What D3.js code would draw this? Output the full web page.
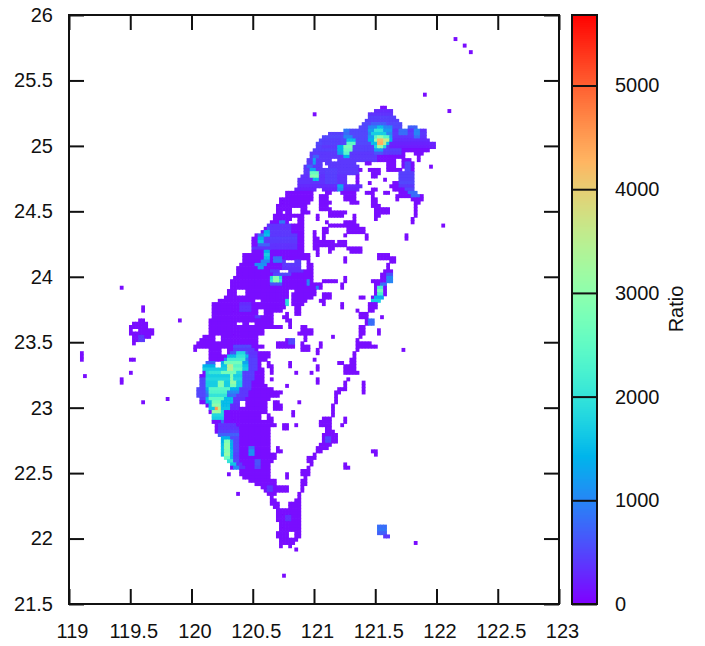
<!doctype html>
<html>
<head>
<meta charset="utf-8">
<title>Ratio map</title>
<script src="https://cdnjs.cloudflare.com/ajax/libs/d3/7.8.5/d3.min.js"></script>
<style>
  html, body { margin: 0; padding: 0; background: #fff; }
  svg { display: block; }
  text { font-family: "Liberation Sans", Arial, sans-serif; fill: #111; }
</style>
</head>
<body>
<svg id="viz" width="705" height="646"></svg>
<script>
// grid cells are 0.025 deg; i counts east from 119, j counts north from 21.5
var gridStep = 0.025;
var baseRatio = 70;
var xTicks = [119, 119.5, 120, 120.5, 121, 121.5, 122, 122.5, 123];
var yTicks = [21.5, 22, 22.5, 23, 23.5, 24, 24.5, 25, 25.5, 26];
var cbTicks = [0, 1000, 2000, 3000, 4000, 5000];
var cbMax = 5680;

// [j, i0, i1, i0, i1, ...] occupied cells of each row
var landRows = [
[172,126,126],[170,129,129],[168,131,131],[155,116,116],
[151,102,103],[150,100,105,124,124],[149,98,105,80,80],[148,98,106],[147,97,107],[146,96,108],
[145,95,108,111,113],[144,90,116],[143,85,116],[142,83,116],[141,82,117],[140,81,119],[139,81,119],[138,80,117],
[137,79,109,113,115],[136,79,109,114,114],[135,78,85,88,106,109,111,114,114],
[134,78,82,84,93,97,98,104,106,109,112],[133,77,82,85,94,104,106,109,112,118,118],[132,77,95,98,101,104,108,110,112],
[131,77,94,99,101,108,112],[130,76,90,94,94,99,100,108,112],[129,75,90,94,94,103,103,108,112],
[128,75,90,94,94,98,98,106,112],[127,75,95,105,112],[126,74,80,83,94,99,100,106,112],
[125,71,79,84,85,89,93,97,99,103,104,108,113],[124,71,79,82,84,90,93,99,99,107,115],
[123,69,79,82,84,90,93,99,100,107,107,112,115],[122,69,78,82,85,92,94,99,100,113,114],
[121,68,77,82,84,99,101,113,113],[120,68,72,76,77,82,85,100,104,113,113],
[119,68,69,71,72,76,78,85,90,100,104,113,113],[118,67,76,81,81,85,89,93,93,100,101,113,113],
[117,67,72,75,76,81,81,93,93,100,100,112,112],[116,66,71,75,76,84,84,90,93,112,112],
[115,65,76,85,94,122,122],[114,64,76,83,84,91,96],[113,63,76,80,80,83,84,91,96],
[112,61,76,80,80,83,83,90,90,97,97,110,110],[111,60,76,80,81,83,83,97,97,110,110],
[110,60,76,80,86,88,90],[109,60,76,80,90],[108,60,76,80,81,85,86,91,95],[107,60,76,81,81,85,85,92,95],
[106,57,78,81,81,101,104],[105,57,78,90,90,101,106],[104,57,70,74,75,78,78,90,90,105,106],
[103,56,75,78,79,104,104],[102,55,75,78,79,104,104],[101,55,68,72,79,103,105],[100,55,79,102,105],
[99,54,79,90,90,102,105],[98,53,79,83,87,90,90,99,105],[97,53,82,89,89,100,103],[96,53,82,89,89,100,103,17,17],
[95,52,54,58,71,74,80,100,103],[94,52,54,58,71,73,80,83,85,100,103],[93,51,71,73,79,83,85,95,96,99,102],
[92,49,60,63,71,73,77,82,83,99,101],[91,47,71,73,76,83,83,89,89,98,100],
[90,47,70,74,75,89,89,98,100,24,24],[89,47,61,64,69,74,75,94,94,98,99,24,24],[88,47,61,64,66,71,71,74,75,95,97],
[87,47,66,70,71,95,97,102,102],[86,46,66,71,72,97,99,36,36,23,24],[85,46,54,57,58,61,66,72,72,97,99,21,25],
[84,46,69,72,72,76,77,95,96,20,25],[83,46,63,76,79,95,96,101,101,20,20,23,27],[82,46,63,75,79,95,96,101,101,20,27],
[81,44,47,50,61,77,77,86,86,95,95,21,26],[80,43,47,50,61,71,73,77,77,94,94,21,24],
[79,42,61,68,73,76,76,82,82,94,98,21,21],[78,41,63,68,73,76,78,82,82,94,100],
[77,41,41,46,49,52,61,76,78,81,81,94,94,109,109],[76,46,49,52,65,81,81,93,93,4,4],[75,46,65,93,93,4,4],
[74,46,64,80,80,92,93,4,4,20,21],[73,45,47,50,62,65,65,72,72,88,89,92,93],[72,44,47,50,62,65,66,72,72,81,81,90,93],
[71,44,63,66,66,81,81,90,93],[70,44,63,66,66,74,74,79,79,90,94,20,20],[69,43,63,5,5],
[68,43,63,66,66,81,81,91,91,17,17],[67,43,63,81,81,90,90,96,96,17,17],[66,43,64,71,71,90,90,96,96],
[65,42,66,88,90,96,96],[64,42,69,87,88,96,96],[63,42,68,87,87],[62,43,65,87,87,32,32],
[61,43,55,58,64,67,68,75,75,87,87,24,24],[60,45,55,58,64,67,69,86,86],[59,46,64,67,69,86,86],[58,46,64,73,73,86,86],
[57,47,62,65,65,73,73,86,86],[56,47,62,65,66,83,85,90,90],[55,47,66,82,85,90,90],[54,48,67,70,71,74,74,82,85,89,89],
[53,48,65,70,71,84,85],[52,48,65,84,86],[51,49,65,83,87],[50,50,65,83,87],[49,50,65,83,87],[48,50,65,82,85],
[47,50,65,68,68,81,84],[46,50,65,68,69,81,82,99,100],[45,50,67,80,80,100,100],[44,51,67,78,80],[43,52,66,78,79],
[42,53,65,79,79,90,90],[41,53,65,78,78,90,91],[40,56,65,76,78],[39,52,52,56,65,71,71,76,78],[38,57,65,71,71,77,77],
[37,59,67,76,77],[36,61,67,76,77],[35,63,71,76,76],[34,64,71,76,76],[33,55,55,65,67,75,75],[32,66,66,75,75],
[31,66,67,74,75],[30,66,68,72,75],[29,67,68,72,75],[28,68,75],[27,68,75],[26,68,75],[25,68,75],
[24,69,75],[23,69,75,101,103],[22,69,75,101,103],[21,68,71,74,75,101,103],[20,68,71,74,75,103,104],
[19,69,74],[18,69,73,113,113],[17,69,69,72,72],[16,74,74],[8,70,70]
];

// [j, i0, i1, ratio] patches above the base level; later entries win
var hotSpans = [
// general tone, north
[150,100,105,300],[149,98,105,350],[148,98,106,450],[147,97,107,450],
[146,96,108,500],[145,93,108,500],[144,90,108,500],[143,85,108,500],[142,83,108,500],[141,82,108,500],[140,81,108,500],[139,81,108,450],[138,80,108,450],[137,79,108,400],[136,79,100,400],[135,78,100,400],
[144,105,116,350],[143,105,116,400],[142,105,116,350],[141,105,117,300],[140,105,119,250],[139,105,119,200],
[144,85,90,350],[143,83,90,450],[142,83,90,500],[141,83,88,450],[140,83,88,450],[139,83,88,400],
[134,77,94,400],[133,77,94,400],[132,77,94,400],[131,77,94,400],[130,76,90,350],[129,75,90,350],[128,75,90,350],[127,75,95,300],[126,74,94,250],
// taipei
[146,99,103,700],[145,98,105,1000],[145,101,102,1500],[144,98,105,1200],[144,100,102,2000],
[143,98,105,1000],[143,99,103,1700],[142,98,105,1200],[142,100,104,2400],[142,101,102,3000],
[141,98,105,1400],[141,100,104,3000],[141,101,102,4200],[141,103,104,3600],
[140,99,104,1500],[140,101,103,3500],[140,101,102,4300],[139,100,103,1800],[139,101,102,3200],
[138,100,102,1200],[137,100,102,600],
// keelung side
[145,111,113,700],[144,108,110,800],[143,108,110,800],[144,113,114,1000],[143,113,114,1000],[142,113,114,800],
// banqiao / taoyuan
[144,90,91,900],[143,90,91,800],[142,90,92,1000],[141,91,93,1500],[140,91,93,2500],
[139,88,89,1400],[139,90,92,2800],[138,88,89,1400],[138,90,92,2600],[137,88,89,1200],[137,90,91,2400],[136,90,91,1400],
// hsinchu
[136,80,81,700],[135,80,80,1300],[134,80,80,1200],[133,78,79,700],[132,79,80,1300],[131,79,81,2600],[130,79,81,2900],[129,80,81,1500],
[132,84,87,450],[131,84,87,450],[130,84,87,450],[129,84,87,450],[128,84,87,450],
[127,88,89,1300],[126,88,89,1100],
// yilan
[134,110,111,500],[133,110,111,500],[132,110,111,500],[131,108,112,450],[130,108,112,450],[129,108,112,450],[128,108,112,500],
[127,108,112,400],[126,110,112,500],[125,111,113,800],[124,112,114,800],
// taichung
[116,69,70,900],[115,69,70,900],[114,65,65,600],[113,64,65,1400],[112,64,65,1500],[112,62,63,800],[111,62,63,1400],[110,62,63,1600],[110,67,68,500],[109,62,65,700],
[115,65,72,350],[114,66,72,350],[113,66,72,400],[112,66,74,400],[111,64,74,450],[110,64,74,400],[109,66,74,350],[108,60,74,350],
[107,64,65,1400],[106,64,65,1700],[105,64,65,1500],[105,67,69,800],[104,63,65,1000],[104,67,69,900],[103,61,64,1100],[102,62,63,1200],
[104,70,75,400],[103,70,75,400],[102,70,75,350],[101,72,76,350],[101,66,68,400],[100,67,72,500],
[99,66,69,1800],[99,67,68,2900],[98,66,69,2000],[98,67,68,3000],[97,66,69,600],
[98,78,78,1000],[97,78,78,1000],[96,81,81,900],[95,81,81,900],[92,71,72,1900],[91,71,72,1900],
[91,56,59,300],[90,56,59,350],[89,56,59,350],[87,61,62,400],[80,72,73,500],[79,72,73,500],
// hualien
[100,104,105,600],[99,104,105,1000],[98,104,105,1000],[97,102,103,800],[96,101,102,2200],[95,101,102,2700],[94,101,102,2200],[93,100,102,1300],[92,99,101,1700],
[86,98,99,800],[85,98,99,800],
// tone around tainan
[76,58,61,350],[75,58,61,400],[74,58,61,450],[73,58,61,450],[72,58,61,450],[71,58,61,450],[70,56,60,450],[69,56,60,450],[68,56,60,450],
[67,56,59,450],[66,56,59,450],[65,55,59,400],[64,55,58,400],[63,54,58,400],[62,53,57,350],[61,53,57,350],[60,52,56,300],[59,52,55,300],
[68,43,44,500],[67,43,44,500],[66,43,44,500],[65,42,44,500],[64,42,44,500],[63,42,44,500],[62,43,44,450],
// chiayi / tainan
[78,54,59,500],[77,54,60,400],[76,53,58,600],[76,55,57,1800],[75,52,58,1500],[75,55,57,2000],
[74,51,58,1000],[74,52,57,2200],[73,45,47,700],[73,50,58,1300],[73,51,56,2700],
[72,44,47,1400],[72,50,58,1600],[72,52,53,3500],[72,54,56,2400],
[71,44,58,1700],[71,52,53,3400],[71,54,56,2600],[70,45,56,1800],[70,46,49,2000],[70,50,54,2700],
[69,45,56,1700],[69,53,53,2900],[68,45,56,1800],[68,53,53,3000],[67,45,56,1700],[67,49,50,2900],[67,53,54,3100],
[66,45,56,1700],[66,49,50,2900],[66,53,54,2800],[65,45,55,1400],[65,46,52,2400],[64,45,55,1000],[64,46,51,2300],
[63,45,54,800],[63,46,51,2000],[62,45,53,1500],[62,46,50,2500],[61,45,53,1500],[61,47,49,2700],[60,46,52,1500],[60,47,49,3000],
[59,46,52,1600],[59,48,48,4500],[59,49,49,3500],[58,47,50,1800],[58,47,49,3200],[57,47,50,1800],[56,47,50,1700],[55,50,50,800],
// kaohsiung strip
[54,49,54,350],[53,49,55,350],[52,49,55,450],[51,49,55,700],[50,50,52,1400],[50,53,55,500],
[49,50,50,1400],[49,51,52,2800],[49,53,53,1300],[49,54,55,500],[48,50,50,1500],[48,51,52,3000],[48,53,53,1400],[48,54,55,500],
[47,50,50,1600],[47,51,52,3000],[47,53,53,1400],[47,54,55,500],[46,50,50,1600],[46,51,52,2900],[46,53,53,1500],[46,54,55,500],
[45,50,50,1500],[45,51,52,3100],[45,53,53,1500],[45,54,55,450],[44,51,52,2600],[44,53,53,1500],[44,54,55,450],
[43,52,53,2000],[43,54,55,500],[42,53,54,1600],[42,55,56,400],[41,54,55,1000],[41,56,57,350],
[47,59,60,800],[46,59,60,1100],[45,59,60,1100],[43,61,62,600],[42,61,62,600],[41,61,62,500],
[50,84,85,500],[49,84,85,500],[35,65,66,400],[34,65,66,400],[26,71,72,350],[25,71,72,350],
[23,101,103,800],[22,101,103,850],[21,101,103,700],[20,103,104,400],[81,23,24,400],[80,23,24,400]
];

var margin = {left: 69, top: 15};
var plotW = 490, plotH = 589;
var cbLeft = 572, cbW = 25;
var ink = "#111";

var x = d3.scaleLinear().domain([119, 123]).range([margin.left, margin.left + plotW]);
var y = d3.scaleLinear().domain([21.5, 26]).range([margin.top + plotH, margin.top]);
var cbY = d3.scaleLinear().domain([0, cbMax]).range([margin.top + plotH, margin.top]);

// gnuplot rgbformulae 33,13,10
function rainbow(v) {
    var t = Math.min(1, v / cbMax);
    var r = Math.abs(2 * t - 0.5), g = Math.sin(Math.PI * t), b = Math.cos(Math.PI * t / 2);
    return d3.rgb(Math.min(1, r) * 255, g * 255, b * 255).formatRgb();
}

var grid = new Map();
landRows.forEach(function(row) {
    for (var k = 1; k < row.length; k += 2) {
        for (var i = row[k]; i <= row[k + 1]; i++) grid.set(row[0] + "," + i, baseRatio);
    }
});
hotSpans.forEach(function(s) {
    for (var i = s[1]; i <= s[2]; i++) {
        var key = s[0] + "," + i;
        if (grid.has(key)) grid.set(key, s[3]);
    }
});
var cells = Array.from(grid, function(e) {
    var p = e[0].split(",");
    return {lat: 21.5 + p[0] * gridStep, lon: 119 + p[1] * gridStep, ratio: e[1]};
});

var svg = d3.select("#viz");

// the source is a resampled bitmap, so soften the cells a little
svg.append("defs").append("filter")
    .attr("id", "soft")
    .append("feGaussianBlur").attr("stdDeviation", 0.6);

var grow = 0.35;
svg.append("g").attr("filter", "url(#soft)").selectAll("rect")
    .data(cells)
    .enter()
    .append("rect")
    .attr("x", function(d) { return x(d.lon - 0.3 * gridStep) - grow; })
    .attr("y", function(d) { return y(d.lat + 1.15 * gridStep) - grow; })
    .attr("width", x(119 + gridStep) - x(119) + 2 * grow)
    .attr("height", y(21.5) - y(21.5 + gridStep) + 2 * grow)
    .style("fill", function(d) { return rainbow(d.ratio); });

function styleAxis(g) {
    g.selectAll(".domain").remove();
    g.selectAll("line").attr("stroke", ink).attr("stroke-width", 2);
    g.selectAll("text").style("font-size", "20px").attr("fill", ink);
}

var bottom = margin.top + plotH, right = margin.left + plotW;
svg.append("g").attr("transform", "translate(0," + bottom + ")")
    .call(d3.axisBottom(x).tickValues(xTicks).tickFormat(d3.format("~g")).tickSizeInner(-15).tickSizeOuter(0).tickPadding(20))
    .call(styleAxis)
    .selectAll("text").attr("dx", 3);
svg.append("g").attr("transform", "translate(0," + margin.top + ")")
    .call(d3.axisTop(x).tickValues(xTicks).tickFormat("").tickSizeInner(-15).tickSizeOuter(0))
    .call(styleAxis);
svg.append("g").attr("transform", "translate(" + margin.left + ",0)")
    .call(d3.axisLeft(y).tickValues(yTicks).tickFormat(d3.format("~g")).tickSizeInner(-15).tickSizeOuter(0).tickPadding(16))
    .call(styleAxis);
svg.append("g").attr("transform", "translate(" + right + ",0)")
    .call(d3.axisRight(y).tickValues(yTicks).tickFormat("").tickSizeInner(-15).tickSizeOuter(0))
    .call(styleAxis);

svg.append("rect")
    .attr("x", margin.left).attr("y", margin.top)
    .attr("width", plotW).attr("height", plotH)
    .attr("fill", "none").attr("stroke", ink).attr("stroke-width", 2);

// colour box
var cbSteps = d3.range(0, cbMax, cbMax / 295);
svg.append("g").selectAll("rect")
    .data(cbSteps)
    .enter()
    .append("rect")
    .attr("x", cbLeft)
    .attr("width", cbW)
    .attr("y", function(d) { return cbY(d + cbMax / 295); })
    .attr("height", cbY(0) - cbY(cbMax / 295) + 0.5)
    .attr("shape-rendering", "crispEdges")
    .style("fill", rainbow);

svg.append("g").attr("transform", "translate(" + (cbLeft + cbW) + ",0)")
    .call(d3.axisRight(cbY).tickValues(cbTicks).tickFormat(d3.format("d")).tickSizeInner(-cbW).tickSizeOuter(0).tickPadding(18))
    .call(styleAxis);

svg.append("rect")
    .attr("x", cbLeft).attr("y", margin.top)
    .attr("width", cbW).attr("height", plotH)
    .attr("fill", "none").attr("stroke", ink).attr("stroke-width", 2);

svg.append("text")
    .attr("transform", "translate(683,309) rotate(-90)")
    .attr("text-anchor", "middle")
    .style("font-size", "20px")
    .text("Ratio");
</script>
</body>
</html>
